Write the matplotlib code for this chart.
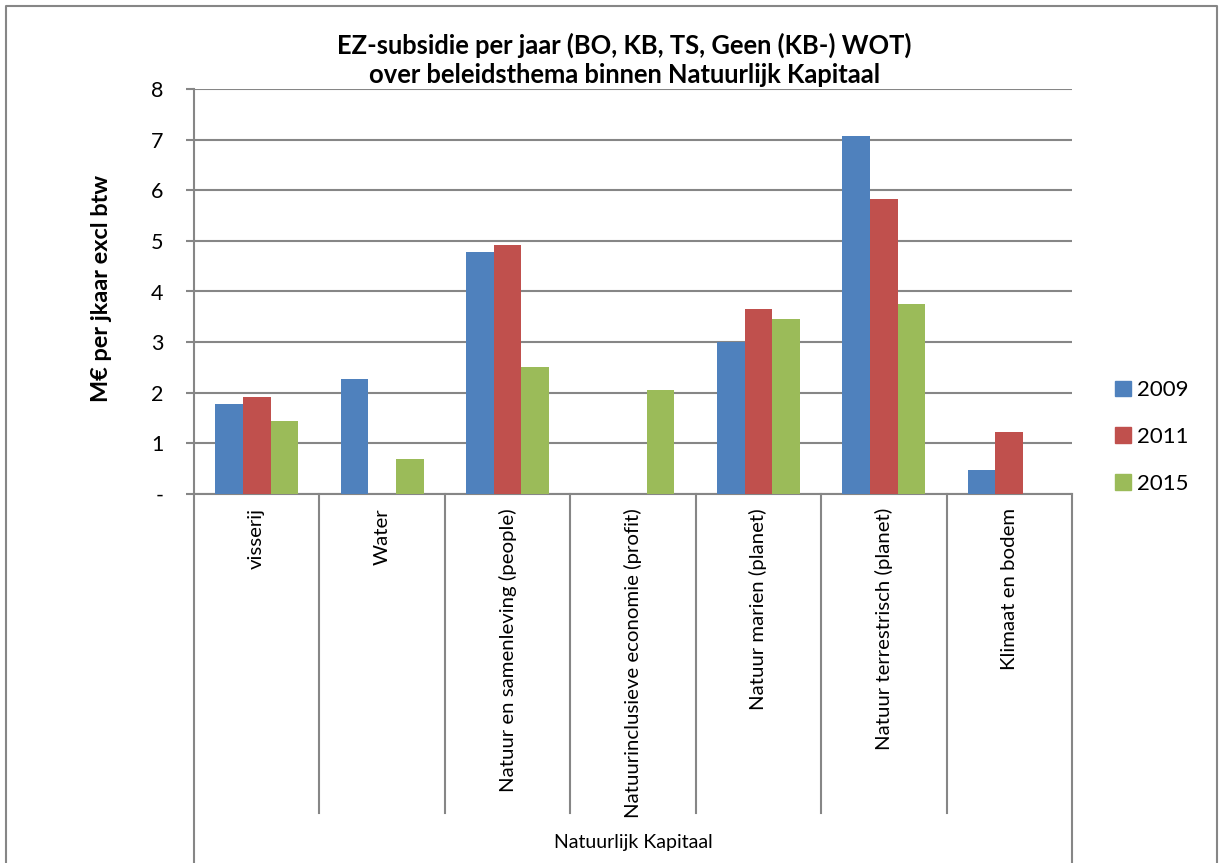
import matplotlib.pyplot as plt
import numpy as np
from matplotlib.lines import Line2D
from matplotlib.patches import Patch

# data
categories = ['visserij', 'Water', 'Natuur en samenleving (people)',
              'Natuurinclusieve economie (profit)', 'Natuur marien (planet)',
              'Natuur terrestrisch (planet)', 'Klimaat en bodem']
years = ['2009', '2011', '2015']
v2009 = [1.78, 2.28, 4.79, 0.0, 3.01, 7.08, 0.48]
v2011 = [1.92, 0.0, 4.91, 0.0, 3.66, 5.82, 1.23]
v2015 = [1.45, 0.69, 2.51, 2.06, 3.45, 3.75, 0.0]
group_label = 'Natuurlijk Kapitaal'

colors = ['#4F81BD', '#C0504D', '#9BBB59']
grey = '#868686'
plt.rcParams['font.family'] = ['Lato', 'DejaVu Sans']

W, H = 1222, 863
fig = plt.figure(figsize=(W / 100, H / 100), dpi=100)
ax = fig.add_axes([194 / W, 1 - 494 / H, 878 / W, 405 / H])

x = np.arange(len(categories))
bw = 0.22
for i, vals in enumerate([v2009, v2011, v2015]):
    ax.bar(x + (i - 1) * bw, vals, width=bw, color=colors[i], zorder=3)

ax.set_xlim(-0.5, len(categories) - 0.5)
ax.set_ylim(0, 8)
ax.set_yticks(range(0, 9))
ax.set_yticklabels(['-'] + [str(i) for i in range(1, 9)], fontsize=15.5)
ax.yaxis.grid(True, color=grey, linewidth=1.5, zorder=0)
ax.tick_params(axis='y', length=6, width=1.5, color=grey, pad=16)
ax.set_xticks([])
for s in ['top', 'right']:
    ax.spines[s].set_visible(False)
ax.spines['left'].set_color(grey)
ax.spines['left'].set_linewidth(1.5)
ax.spines['bottom'].set_color(grey)
ax.spines['bottom'].set_linewidth(1.5)

# category divider lines below the axis
tr = ax.get_xaxis_transform()
for k in range(len(categories) + 1):
    xb = k - 0.5
    y_end = -0.95 if k in (0, len(categories)) else -0.788
    ax.plot([xb, xb], [0, y_end], transform=tr, color=grey, lw=1.5, clip_on=False)

for i, c in enumerate(categories):
    ax.text(i, -0.035, c, transform=tr, rotation=90, ha='center', va='top',
            fontsize=14.7)

ax.text(3, -0.86, group_label, transform=tr, ha='center', va='center', fontsize=14)

# title and y label
fig.text(624 / W, 1 - 45 / H, 'EZ-subsidie per jaar (BO, KB, TS, Geen (KB-) WOT)',
         ha='center', va='center', fontsize=18.4, fontweight='bold')
fig.text(625 / W, 1 - 75 / H, 'over beleidsthema binnen Natuurlijk Kapitaal',
         ha='center', va='center', fontsize=18.4, fontweight='bold')
fig.text(101 / W, 1 - 288 / H, 'M€ per jkaar excl btw', rotation=90,
         ha='center', va='center', fontsize=16.9, fontweight='bold')

# legend
handles = [Patch(color=colors[i], label=years[i]) for i in range(3)]
fig.legend(handles=handles, loc='center left', bbox_to_anchor=(1104 / W, 1 - 437 / H),
           frameon=False, fontsize=16, handlelength=0.7, handleheight=0.7,
           handletextpad=0.3, labelspacing=1.2, borderpad=0)

# outer frame
fig.add_artist(Line2D([6 / W, 6 / W, 1217 / W, 1217 / W], [0, 1 - 6 / H, 1 - 6 / H, 0],
                      transform=fig.transFigure, color=grey, lw=1.5))

fig.savefig('out.png', dpi=100)
